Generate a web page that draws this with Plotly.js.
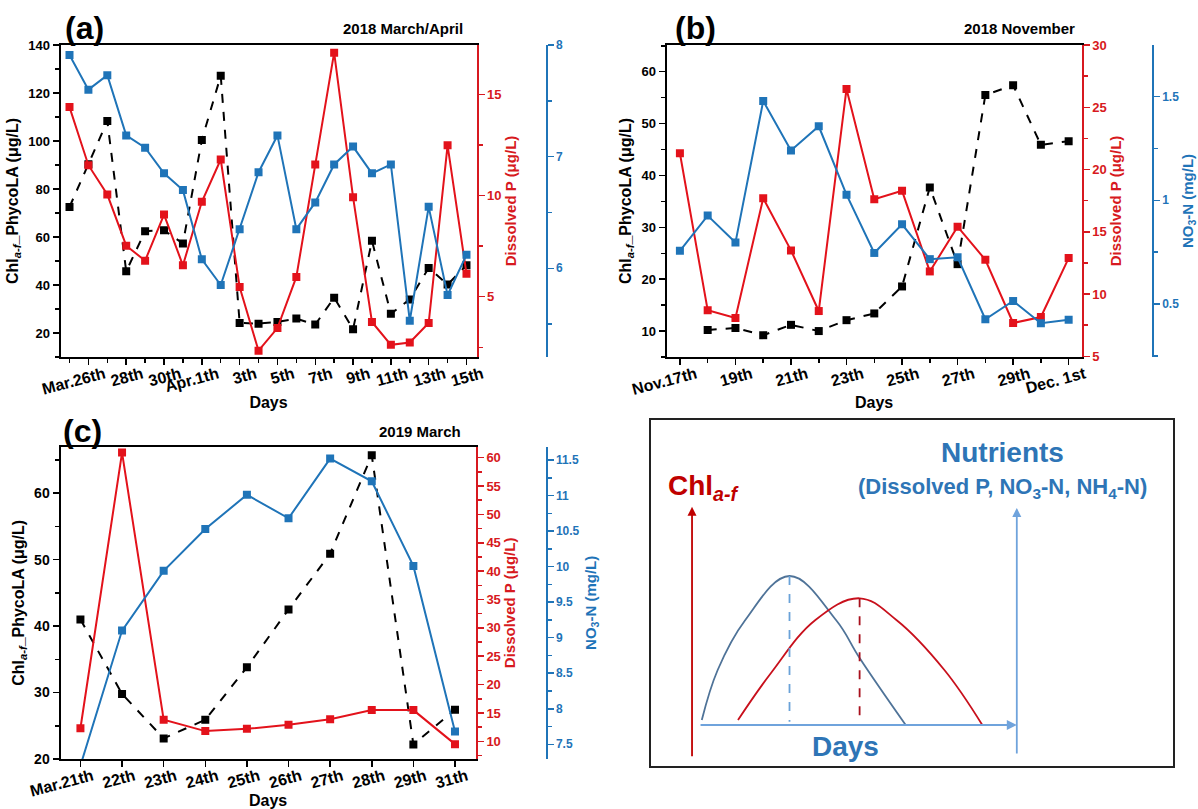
<!DOCTYPE html>
<html><head><meta charset="utf-8">
<script src="https://cdn.plot.ly/plotly-3.0.1.min.js"></script>
<style>html,body{margin:0;padding:0;background:#fff}#chart{width:1198px;height:809px}</style>
</head><body><div id="chart"></div>
<script>
// ---------- Panel (a): 2018 March/April ----------
const datesA = ['Mar.25','Mar.26','Mar.27','Mar.28','Mar.29','Mar.30','Mar.31','Apr.1','Apr.2','Apr.3','Apr.4','Apr.5','Apr.6','Apr.7','Apr.8','Apr.9','Apr.10','Apr.11','Apr.12','Apr.13','Apr.14','Apr.15'];
const chlA = [72.5,90.3,108.3,45.7,62.4,62.8,57.3,100.4,127.2,24.2,23.9,24.6,26.0,23.5,34.7,21.6,58.4,28.0,34.0,47.1,40.2,48.2];
const dpA  = [14.37,11.5,10.05,7.52,6.78,9.06,6.55,9.69,11.78,5.48,2.33,3.45,5.98,11.53,17.06,9.92,3.75,2.62,2.74,3.70,12.48,6.14];
const no3A = [7.91,7.60,7.73,7.19,7.08,6.85,6.70,6.08,5.85,6.35,6.86,7.19,6.35,6.59,6.93,7.09,6.85,6.93,5.53,6.55,5.76,6.12];
const tickDatesA  = ['Mar.26','Mar.28','Mar.30','Apr.1','Apr.3','Apr.5','Apr.7','Apr.9','Apr.11','Apr.13','Apr.15'];
const tickLabelsA = ['Mar.26th','28th','30th','Apr.1th','3th','5th','7th','9th','11th','13th','15th'];

// ---------- Panel (b): 2018 November ----------
const datesB = ['Nov.17','Nov.18','Nov.19','Nov.20','Nov.21','Nov.22','Nov.23','Nov.24','Nov.25','Nov.26','Nov.27','Nov.28','Nov.29','Nov.30','Dec.1'];
const chlB = [null,10.2,10.6,9.2,11.2,10.0,12.1,13.4,18.6,37.7,22.9,55.5,57.4,45.9,46.6];
const dpB  = [21.31,8.70,8.08,17.70,13.51,8.64,26.47,17.62,18.29,11.82,15.41,12.76,7.68,8.16,12.89];
const no3B = [0.756,0.926,0.796,1.479,1.240,1.357,1.027,0.746,0.884,0.716,0.725,0.426,0.514,0.407,0.424];
const tickDatesB  = ['Nov.17','Nov.19','Nov.21','Nov.23','Nov.25','Nov.27','Nov.29','Dec.1'];
const tickLabelsB = ['Nov.17th','19th','21th','23th','25th','27th','29th','Dec. 1st'];

// ---------- Panel (c): 2019 March ----------
const datesC = ['Mar.21','Mar.22','Mar.23','Mar.24','Mar.25','Mar.26','Mar.27','Mar.28','Mar.29','Mar.31'];
const chlC = [41.0,29.8,23.1,25.9,33.8,42.5,50.9,65.7,22.2,27.4];
const dpC  = [12.3,60.9,13.8,11.8,12.2,12.9,13.9,15.5,15.5,9.5];
const no3C = [7.2,9.10,9.94,10.53,11.01,10.68,11.52,11.20,10.01,7.68];
const tickLabelsC = ['Mar.21th','22th','23th','24th','25th','26th','27th','28th','29th','31th'];

// ---------- Schematic panel (conceptual units 0-100) ----------
const schemNutrX = [9.8,12.84,18.13,26.59,35.49,40.01,48.83];
const schemNutrY = [13.29,27.75,42.2,54.91,42.2,31.21,11.85];
const schemChlX  = [16.73,23.05,31.55,40.01,47.05,56.24,63.5];
const schemChlY  = [13.29,26.88,42.2,48.47,42.2,27.75,11.85];
const schemBaseY = 12.8;

// ---------- styles ----------
const FONT = 'Liberation Sans, Arial, sans-serif';
const RED = '#e3121b', RED_AX = '#d71920', BLUE = '#1f74b8', BLACK = '#000';
const W = 1198, H = 809;
const fx = p => p / W, fy = p => 1 - p / H;
const idx = arr => arr.map((_, i) => i);
const f = (size, color) => ({family: FONT, size: size, color: color || BLACK, weight: 700});

function blackTrace(x, y, xa, ya) {
  return {x, y, xaxis: xa, yaxis: ya, type: 'scatter', mode: 'lines+markers', connectgaps: false,
    line: {color: BLACK, width: 2, dash: 'dash'}, marker: {symbol: 'square', size: 8, color: BLACK}, hoverinfo: 'skip'};
}
function colTrace(x, y, xa, ya, c) {
  return {x, y, xaxis: xa, yaxis: ya, type: 'scatter', mode: 'lines+markers',
    line: {color: c, width: 2}, marker: {symbol: 'square', size: 8, color: c}, hoverinfo: 'skip'};
}

const xA = idx(datesA), xB = idx(datesB), xC = idx(datesC);

const traces = [
  blackTrace(xA, chlA, 'x', 'y'),
  colTrace(xA, dpA, 'x', 'y2', RED),
  colTrace(xA, no3A, 'x', 'y3', BLUE),
  blackTrace(xB, chlB, 'x2', 'y4'),
  colTrace(xB, dpB, 'x2', 'y5', RED),
  colTrace(xB, no3B, 'x2', 'y6', BLUE),
  blackTrace(xC, chlC, 'x3', 'y7'),
  colTrace(xC, dpC, 'x3', 'y8', RED),
  colTrace(xC, no3C, 'x3', 'y9', BLUE),
  // schematic curves
  {x: schemNutrX, y: schemNutrY, xaxis: 'x4', yaxis: 'y10', type: 'scatter', mode: 'lines',
   line: {color: '#4f7398', width: 1.8, shape: 'spline', smoothing: 1.1}, hoverinfo: 'skip'},
  {x: schemChlX, y: schemChlY, xaxis: 'x4', yaxis: 'y10', type: 'scatter', mode: 'lines',
   line: {color: '#c8101c', width: 1.8, shape: 'spline', smoothing: 1.1}, hoverinfo: 'skip'},
  {x: [schemNutrX[3], schemNutrX[3]], y: [schemNutrY[3], schemBaseY], xaxis: 'x4', yaxis: 'y10', type: 'scatter', mode: 'lines',
   line: {color: '#6aa2d8', width: 1.8, dash: 'dash'}, hoverinfo: 'skip'},
  {x: [schemChlX[3], schemChlX[3]], y: [schemChlY[3], schemBaseY], xaxis: 'x4', yaxis: 'y10', type: 'scatter', mode: 'lines',
   line: {color: '#a8101c', width: 1.8, dash: 'dash'}, hoverinfo: 'skip'}
];

function xAxis(domain, range, anchor, tickvals, ticktext, minor, shift, titleStandoff) {
  const ax = {domain, range, anchor, showline: true, linecolor: BLACK, linewidth: 2, mirror: true,
    ticks: 'outside', ticklen: 6, tickwidth: 1.5, tickcolor: BLACK, showgrid: false, zeroline: false,
    tickmode: 'array', tickvals, ticktext, tickangle: -15, ticklabelshift: shift, ticklabelstandoff: -6, tickfont: f(16),
    title: {text: 'Days', font: f(16), standoff: titleStandoff}};
  if (minor) ax.minor = {tickmode: 'linear', tick0: 0, dtick: 1, ticks: 'outside', ticklen: 4, tickwidth: 1.5, tickcolor: BLACK, showgrid: false};
  return ax;
}
function leftAxis(domain, range, anchor, dtick, minorD, title, standoff, fs) {
  return {domain, range, anchor, showline: true, linecolor: BLACK, linewidth: 2, mirror: false,
    ticks: 'outside', ticklen: 6, tickwidth: 1.5, tickcolor: BLACK, showgrid: false, zeroline: false,
    tick0: 0, dtick, tickfont: f(fs || 13),
    minor: {tick0: 0, dtick: minorD, ticks: 'outside', ticklen: 4, tickwidth: 1.5, tickcolor: BLACK, showgrid: false},
    title: {text: title, font: f(16), standoff}};
}
function rightAxis(over, range, anchor, position, color, dtick, minorD, title, standoff, fs) {
  const ax = {overlaying: over, side: 'right', range, showline: true, linecolor: color, linewidth: 2,
    ticks: 'outside', ticklen: 6, tickwidth: 1.5, tickcolor: color, showgrid: false, zeroline: false,
    tick0: 0, dtick, tickfont: f(fs, color),
    minor: {tick0: 0, dtick: minorD, ticks: 'outside', ticklen: 4, tickwidth: 1.5, tickcolor: color, showgrid: false},
    title: {text: title, font: f(15, color), standoff}};
  if (anchor === 'free') { ax.anchor = 'free'; ax.position = position; } else { ax.anchor = anchor; }
  return ax;
}

const CHL = 'Chl<sub><i>a-f</i></sub>_PhycoLA (μg/L)';
const DP = 'Dissolved P (μg/L)';
const NO3 = 'NO<sub>3</sub>-N (mg/L)';

const domA = [fx(60.5), fx(476.5)], domB = [fx(666.5), fx(1081.7)], domC = [fx(60.5), fx(475.8)];
const domAy = [fy(357), fy(45)], domCy = [fy(759), fy(446.7)];

const tvA = tickDatesA.map(d => datesA.indexOf(d));
const tvB = tickDatesB.map(d => datesB.indexOf(d));

const layout = {
  width: W, height: H, margin: {l: 0, r: 0, t: 0, b: 0}, paper_bgcolor: '#fff', plot_bgcolor: 'rgba(0,0,0,0)',
  showlegend: false, font: {family: FONT},
  xaxis:  xAxis(domA, [-0.476, 21.53], 'y', tvA, tickLabelsA, true, 16, 0),
  yaxis:  leftAxis(domAy, [10, 140], 'x', 20, 10, CHL, 6, 13),
  yaxis2: rightAxis('y', [2.02, 17.44], 'x', null, RED_AX, 5, 2.5, DP, 4, 13),
  yaxis3: rightAxis('y', [5.205, 8], 'free', fx(546.5), BLUE, 1, 0.5, '', 4, 12),
  xaxis2: xAxis(domB, [-0.483, 14.47], 'y4', tvB, tickLabelsB, true, 16, 0),
  yaxis4: leftAxis(domAy, [5, 65.15], 'x2', 10, 5, CHL, 6, 13),
  yaxis5: rightAxis('y4', [4.95, 30], 'x2', null, RED_AX, 5, 2.5, DP, 4, 13),
  yaxis6: rightAxis('y4', [0.244, 1.749], 'free', fx(1152.8), BLUE, 0.5, 0.25, NO3, 8, 12),
  xaxis3: xAxis(domC, [-0.479, 9.5], 'y7', xC, tickLabelsC, false, 12, 0),
  yaxis7: leftAxis(domCy, [20, 67], 'x3', 10, 5, CHL, 6, 14),
  yaxis8: rightAxis('y7', [6.88, 61.94], 'x3', null, RED_AX, 5, 2.5, DP, 4, 13),
  yaxis9: rightAxis('y7', [7.293, 11.687], 'free', fx(546.5), BLUE, 0.5, 0.25, NO3, 6, 12),
  xaxis4: {domain: [fx(650.6), fx(1173)], range: [0, 100], anchor: 'y10', showline: true, mirror: true,
    linecolor: '#222', linewidth: 2, ticks: '', showticklabels: false, showgrid: false, zeroline: false},
  yaxis10: {domain: [fy(766), fy(420)], range: [0, 100], anchor: 'x4', showline: true, mirror: true,
    linecolor: '#222', linewidth: 2, ticks: '', showticklabels: false, showgrid: false, zeroline: false},
  annotations: [
    {text: '(a)', xref: 'paper', yref: 'paper', x: fx(84), y: fy(28), xanchor: 'center', yanchor: 'middle', showarrow: false, font: f(32)},
    {text: '2018 March/April', xref: 'paper', yref: 'paper', x: fx(465), y: fy(29), xanchor: 'right', yanchor: 'middle', showarrow: false, font: f(15)},
    {text: '(b)', xref: 'paper', yref: 'paper', x: fx(695), y: fy(28), xanchor: 'center', yanchor: 'middle', showarrow: false, font: f(32)},
    {text: '2018 November', xref: 'paper', yref: 'paper', x: fx(1077), y: fy(29), xanchor: 'right', yanchor: 'middle', showarrow: false, font: f(15)},
    {text: '(c)', xref: 'paper', yref: 'paper', x: fx(82), y: fy(431), xanchor: 'center', yanchor: 'middle', showarrow: false, font: f(32)},
    {text: '2019 March', xref: 'paper', yref: 'paper', x: fx(463), y: fy(431), xanchor: 'right', yanchor: 'middle', showarrow: false, font: f(15)},
    // schematic texts
    {text: 'Chl<sub><i>a-f</i></sub>', xref: 'x4', yref: 'y10', x: 3.0, y: 80.6, xanchor: 'left', yanchor: 'middle', showarrow: false, font: f(28, '#c00000')},
    {text: 'Nutrients', xref: 'x4', yref: 'y10', x: 67.3, y: 90.5, xanchor: 'center', yanchor: 'middle', showarrow: false, font: f(28, '#2e75b6')},
    {text: '(Dissolved P, NO<sub>3</sub>-N, NH<sub>4</sub>-N)', xref: 'x4', yref: 'y10', x: 67.3, y: 80.3, xanchor: 'center', yanchor: 'middle', showarrow: false, font: f(22, '#2e75b6')},
    {text: 'Days', xref: 'x4', yref: 'y10', x: 37.4, y: 5.5, xanchor: 'center', yanchor: 'middle', showarrow: false, font: f(28, '#2e75b6')},
    // schematic axes arrows
    {text: '', xref: 'x4', yref: 'y10', axref: 'x4', ayref: 'y10', x: 7.93, y: 74.9, ax: 7.93, ay: 2.4, showarrow: true, arrowhead: 2, arrowsize: 1, arrowwidth: 1.8, arrowcolor: '#c00000'},
    {text: '', xref: 'x4', yref: 'y10', axref: 'x4', ayref: 'y10', x: 70.1, y: 74.6, ax: 70.1, ay: 3.2, showarrow: true, arrowhead: 2, arrowsize: 1, arrowwidth: 1.8, arrowcolor: '#6fa3dc'},
    {text: '', xref: 'x4', yref: 'y10', axref: 'x4', ayref: 'y10', x: 70.1, y: 11.85, ax: 9.27, ay: 11.85, showarrow: true, arrowhead: 2, arrowsize: 1, arrowwidth: 2, arrowcolor: '#6fa3dc'}
  ]
};

Plotly.newPlot('chart', traces, layout, {staticPlot: true, displayModeBar: false});
</script></body></html>
